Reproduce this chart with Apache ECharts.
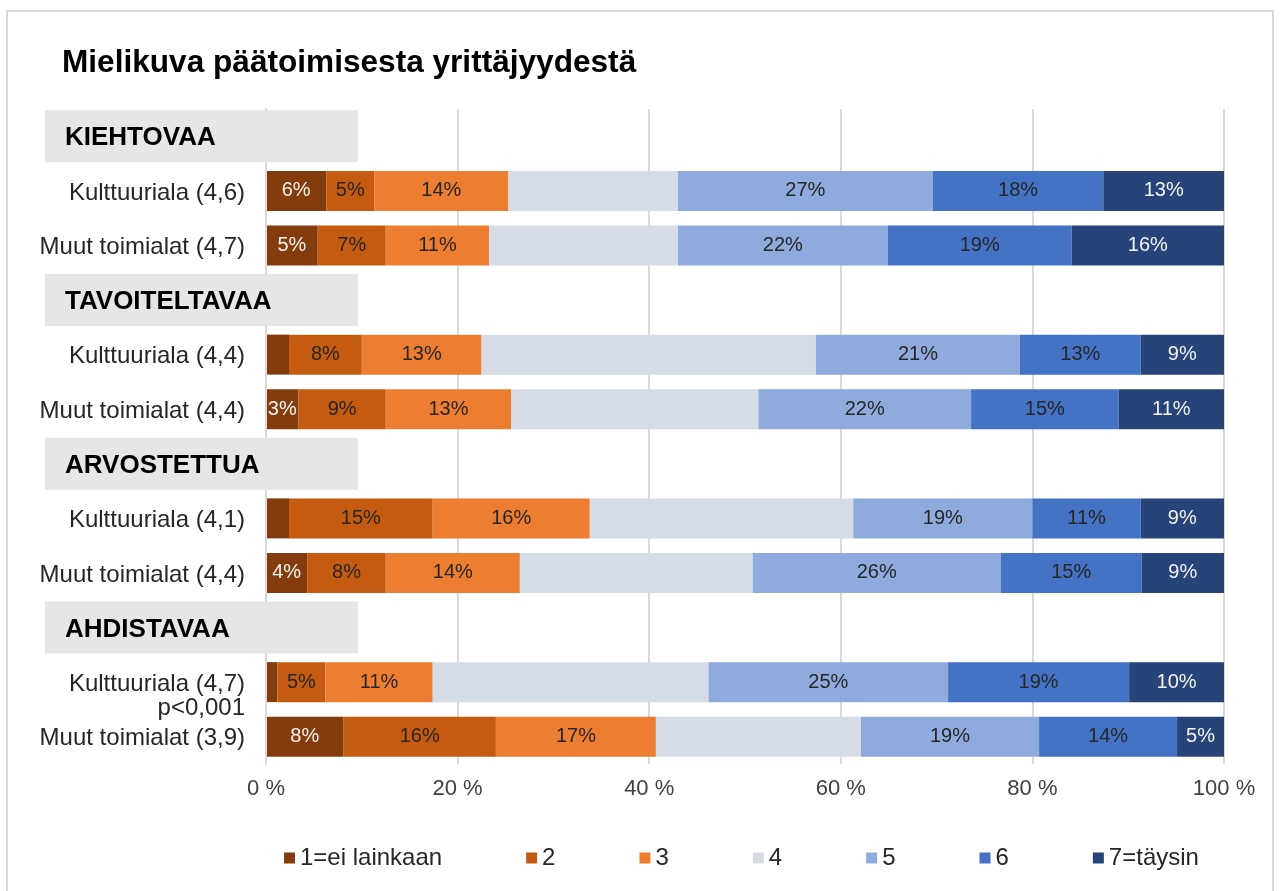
<!DOCTYPE html>
<html>
<head>
<meta charset="utf-8">
<title>Mielikuva päätoimisesta yrittäjyydestä</title>
<script src="https://cdn.jsdelivr.net/npm/echarts@6/dist/echarts.min.js"></script>
<style>
  html, body { margin: 0; padding: 0; background: #fff; }
  #frame {
    position: absolute;
    left: 6px;
    top: 10px;
    width: 1268px;
    height: 900px;
    border: 2px solid #d9d9d9;
    box-sizing: border-box;
  }
  #chart {
    position: absolute;
    left: 0;
    top: 0;
    width: 1282px;
    height: 891px;
  }
</style>
</head>
<body>
<div id="frame"></div>
<div id="chart"></div>
<script>
// group headers and bar rows (two rows under each header)
const groups = ['KIEHTOVAA', 'TAVOITELTAVAA', 'ARVOSTETTUA', 'AHDISTAVAA']
const rowLabels = [
  'Kulttuuriala (4,6)', 'Muut toimialat (4,7)',
  'Kulttuuriala (4,4)', 'Muut toimialat (4,4)',
  'Kulttuuriala (4,1)', 'Muut toimialat (4,4)',
  'Kulttuuriala (4,7)\np<0,001', 'Muut toimialat (3,9)'
]
const levels = ['1=ei lainkaan', '2', '3', '4', '5', '6', '7=täysin']
const levelColors = ['#843c0c', '#c55a11', '#ed7d31', '#d6dce5', '#8faadc', '#4472c4', '#264478']

// shares in %, one array per answer level, rows in the same order as rowLabels
const level1 = [6.3, 5.4, 2.4, 3.4, 2.4, 4.3, 1.2, 8.1]
const level2 = [5.0, 7.1, 7.6, 9.1, 15.0, 8.2, 5.0, 15.9]
const level3 = [14.0, 10.8, 12.5, 13.1, 16.4, 14.0, 11.2, 16.7]
const level4 = [17.7, 19.7, 34.9, 25.8, 27.5, 24.3, 28.8, 21.4]
const level5 = [26.6, 21.9, 21.3, 22.2, 18.7, 25.9, 25.0, 18.6]
const level6 = [17.8, 19.2, 12.6, 15.4, 11.3, 14.7, 18.9, 14.4]
const level7 = [12.6, 15.9, 8.7, 11.0, 8.7, 8.6, 9.9, 4.9]
const levelValues = [level1, level2, level3, level4, level5, level6, level7]

const xTicks = [0, 20, 40, 60, 80, 100]

// build category list: header, row, row, header, ...
const categories = []
const isHeader = []
const rowIndex = []
groups.forEach((g, gi) => {
  categories.push(g)
  isHeader.push(true)
  rowIndex.push(-1)
  for (let k = 0; k < 2; k++) {
    categories.push(rowLabels[gi * 2 + k])
    isHeader.push(false)
    rowIndex.push(gi * 2 + k)
  }
})

const darkText = '#262626'
const labelColors = ['#f2f2f2', darkText, darkText, darkText, darkText, darkText, '#f2f2f2']

const series = levels.map((name, li) => ({
  name,
  type: 'bar',
  stack: 'total',
  barWidth: 40,
  itemStyle: { color: levelColors[li] },
  label: {
    show: li !== 3,
    position: 'inside',
    fontFamily: 'Liberation Sans',
    fontSize: 20,
    color: labelColors[li],
    formatter: p => (p.value >= 3 ? Math.round(p.value) + '%' : '')
  },
  emphasis: { disabled: true },
  data: categories.map((c, ci) => (isHeader[ci] ? '-' : levelValues[li][rowIndex[ci]]))
}))

const chart = echarts.init(document.getElementById('chart'), null, { renderer: 'canvas' })

chart.setOption({
  animation: false,
  textStyle: { fontFamily: 'Liberation Sans' },
  title: {
    text: 'Mielikuva päätoimisesta yrittäjyydestä',
    left: 57,
    top: 42,
    textStyle: { fontSize: 31.6, fontWeight: 'bold', color: '#000', fontFamily: 'Liberation Sans' }
  },
  legend: {
    data: levels,
    left: 279,
    top: 841,
    icon: 'rect',
    itemWidth: 11,
    itemHeight: 11,
    itemGap: 84,
    textStyle: { fontSize: 24, color: darkText }
  },
  grid: {
    left: 266,
    right: 58,
    top: 109,
    bottom: 127,
    containLabel: false
  },
  xAxis: {
    type: 'value',
    min: 0,
    max: 100,
    interval: 20,
    axisLine: { show: false },
    axisTick: { show: false },
    axisLabel: {
      fontSize: 22,
      color: '#404040',
      margin: 14,
      formatter: v => (xTicks.includes(v) ? v + ' %' : '')
    },
    splitLine: { show: true, showMinLine: false, lineStyle: { color: '#d9d9d9', width: 2 } }
  },
  yAxis: {
    type: 'category',
    inverse: true,
    data: categories,
    z: 5,
    axisLine: { show: true, lineStyle: { color: '#d9d9d9', width: 2 } },
    axisTick: { show: false },
    axisLabel: {
      interval: 0,
      margin: -92,
      formatter: (v, i) => {
        if (isHeader[i]) return '{h|' + v + '}'
        const lines = v.split('\n')
        if (lines.length > 1) return '{c| }\n{c|' + lines[0] + '}\n{c|' + lines[1] + '}'
        return '{c|' + v + '}'
      },
      rich: {
        h: {
          fontSize: 26,
          fontWeight: 'bold',
          color: '#000',
          backgroundColor: '#e7e6e6',
          width: 293,
          height: 48,
          lineHeight: 48,
          padding: [4, 0, 0, 20],
          align: 'left'
        },
        c: {
          fontSize: 24,
          color: darkText,
          lineHeight: 24,
          align: 'right',
          padding: [4, 113, 0, 0]
        }
      }
    }
  },
  series
})
</script>
</body>
</html>
